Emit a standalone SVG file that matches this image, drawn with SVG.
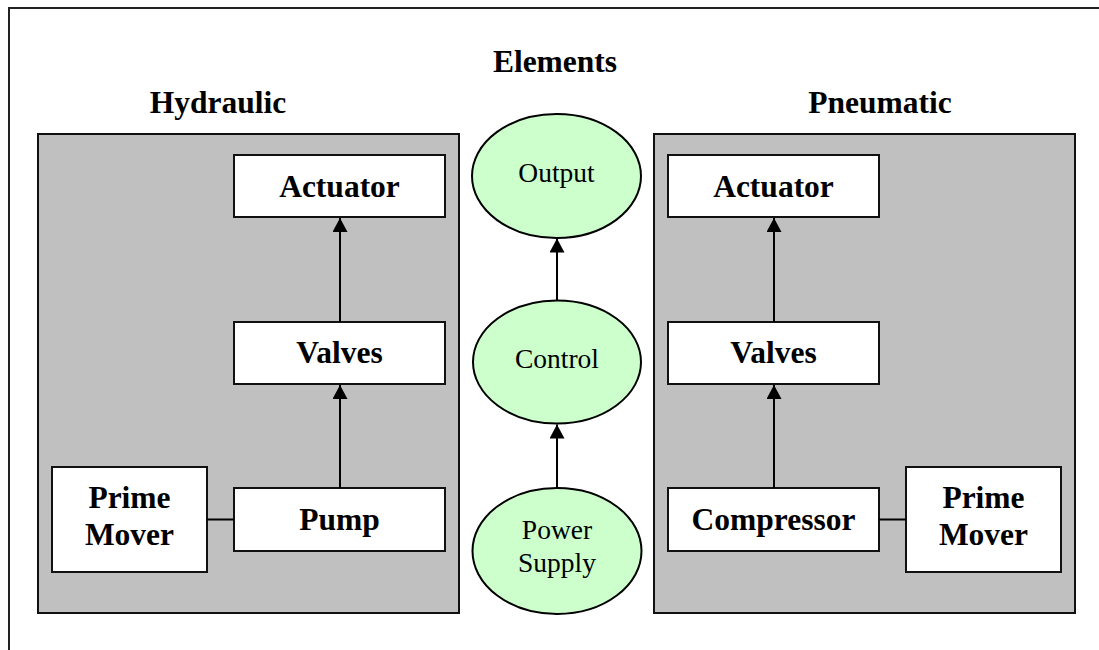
<svg xmlns="http://www.w3.org/2000/svg" width="1099" height="650" viewBox="0 0 1099 650">
<defs>
<style>
.frame{fill:none;stroke:#222;stroke-width:2}
.panel{fill:#C0C0C0;stroke:#111;stroke-width:2}
.box{fill:#fff;stroke:#111;stroke-width:2}
.ell{fill:#CCFFCC;stroke:#000;stroke-width:2}
.b{font-family:"Liberation Serif","Times New Roman",serif;font-weight:bold;font-size:31.5px;fill:#000;text-anchor:middle}
.r{font-family:"Liberation Serif","Times New Roman",serif;font-size:27.5px;fill:#000;text-anchor:middle}
.c{stroke:#000;stroke-width:2;fill:none}
</style>
<marker id="ah" markerUnits="userSpaceOnUse" markerWidth="15" markerHeight="15" refX="14" refY="7.5" orient="auto">
<path d="M0,0 L14,7.5 L0,15 z" fill="#000"/>
</marker>
</defs>
<rect x="0" y="0" width="1099" height="650" fill="#fff"/>
<rect class="frame" x="9" y="8" width="1200" height="700"/>
<text class="b" x="555" y="72">Elements</text>
<text class="b" x="218" y="113">Hydraulic</text>
<text class="b" x="880" y="113">Pneumatic</text>
<g id="hydraulic">
<rect class="panel" x="38" y="134" width="421" height="479"/>
</g>
<g id="pneumatic">
<rect class="panel" x="654" y="134" width="421" height="479"/>
</g>
<g id="h-actuator"><rect class="box" x="234" y="155" width="211" height="62"/><text class="b" x="339.5" y="197">Actuator</text></g>
<g id="h-valves"><rect class="box" x="234" y="322" width="211" height="62"/><text class="b" x="339.5" y="363">Valves</text></g>
<g id="h-pump"><rect class="box" x="234" y="488" width="211" height="63"/><text class="b" x="339.5" y="530">Pump</text></g>
<g id="h-prime"><rect class="box" x="52" y="467" width="155" height="105"/><text class="b" x="129.5" y="508">Prime</text><text class="b" x="129.5" y="545">Mover</text></g>
<g id="p-actuator"><rect class="box" x="668" y="155" width="211" height="62"/><text class="b" x="773.5" y="197">Actuator</text></g>
<g id="p-valves"><rect class="box" x="668" y="322" width="211" height="62"/><text class="b" x="773.5" y="363">Valves</text></g>
<g id="p-compressor"><rect class="box" x="668" y="488" width="211" height="63"/><text class="b" x="773.5" y="530">Compressor</text></g>
<g id="p-prime"><rect class="box" x="906" y="467" width="155" height="105"/><text class="b" x="983.5" y="508">Prime</text><text class="b" x="983.5" y="545">Mover</text></g>
<g id="output"><ellipse class="ell" cx="556.5" cy="176" rx="84.5" ry="62"/><text class="r" x="556.5" y="182">Output</text></g>
<g id="control"><ellipse class="ell" cx="557" cy="362" rx="84" ry="61.5"/><text class="r" x="557" y="368">Control</text></g>
<g id="power"><ellipse class="ell" cx="557" cy="551" rx="84.5" ry="63"/><text class="r" x="557" y="539">Power</text><text class="r" x="557" y="571.5">Supply</text></g>
<g id="connectors">
<line class="c" x1="340" y1="488" x2="340" y2="385" marker-end="url(#ah)"/>
<line class="c" x1="340" y1="322" x2="340" y2="218" marker-end="url(#ah)"/>
<line class="c" x1="774" y1="488" x2="774" y2="385" marker-end="url(#ah)"/>
<line class="c" x1="774" y1="322" x2="774" y2="218" marker-end="url(#ah)"/>
<line class="c" x1="557" y1="488" x2="557" y2="424.5" marker-end="url(#ah)"/>
<line class="c" x1="557" y1="300.5" x2="557" y2="238.5" marker-end="url(#ah)"/>
<line class="c" x1="207" y1="519.5" x2="234" y2="519.5"/>
<line class="c" x1="879" y1="519.5" x2="906" y2="519.5"/>
</g>
</svg>
